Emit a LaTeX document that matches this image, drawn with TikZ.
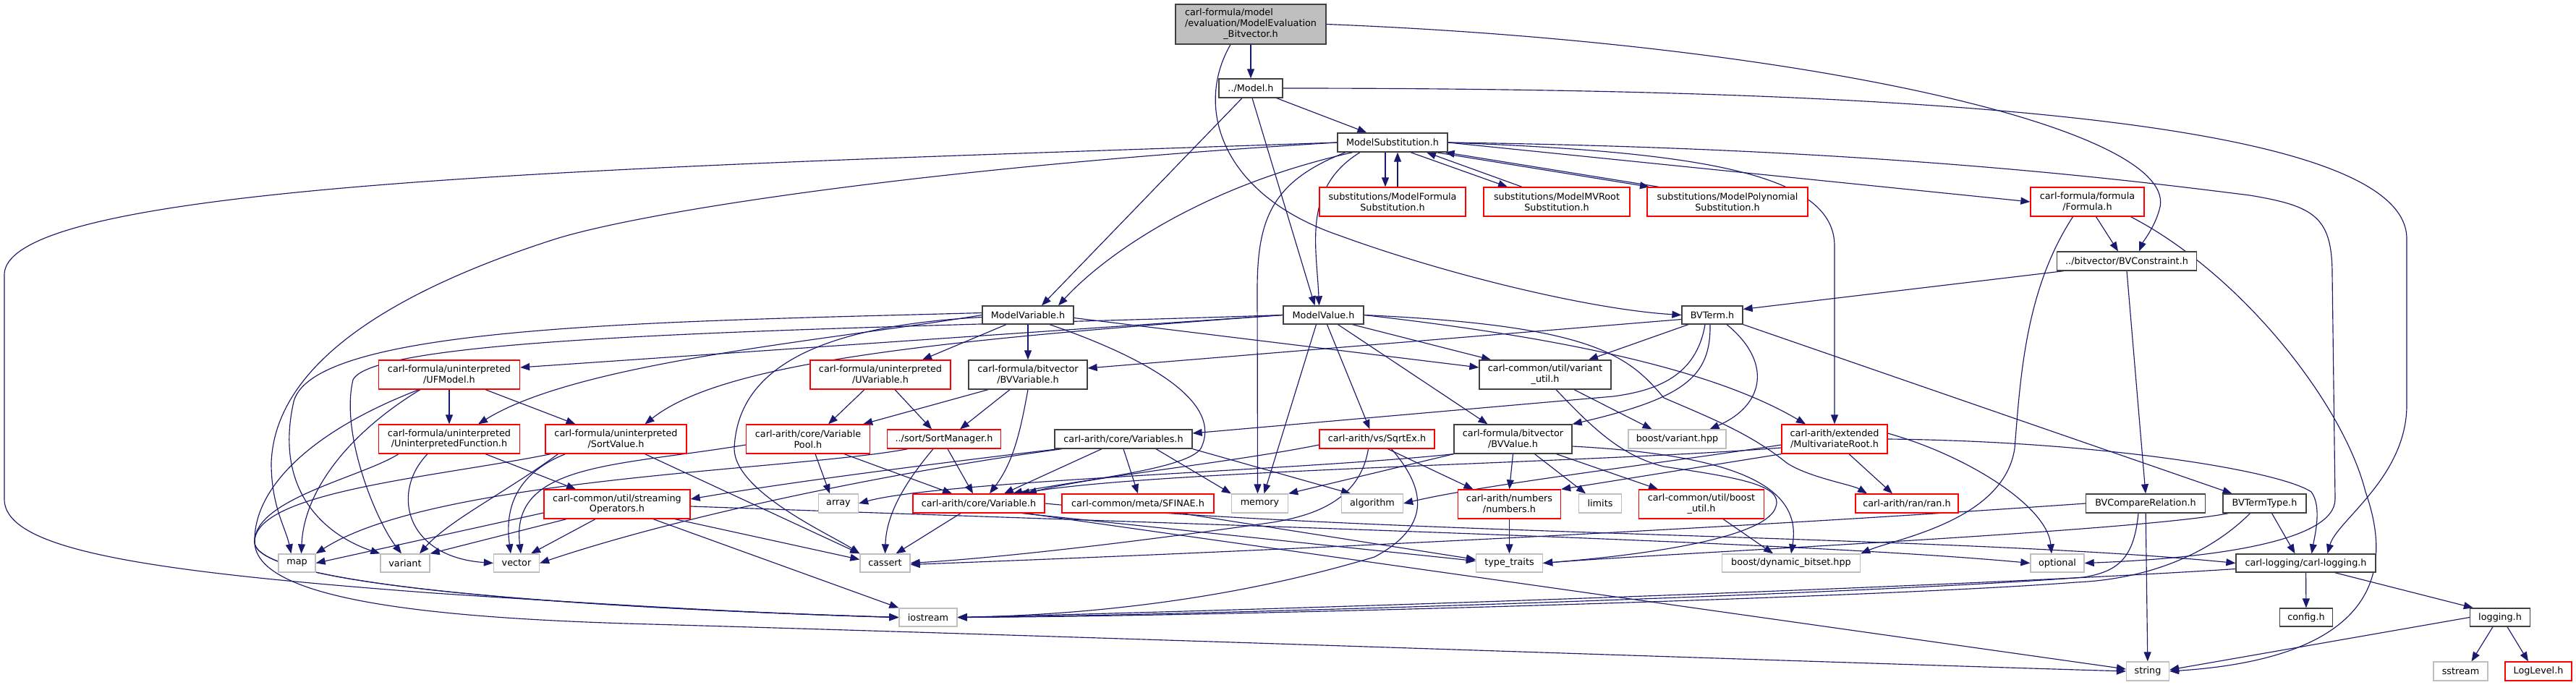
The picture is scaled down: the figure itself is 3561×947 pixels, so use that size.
\documentclass[tikz,border=0pt]{standalone}
\usepackage{fontspec}
\setmainfont{DejaVu Sans}
\usetikzlibrary{arrows.meta}
\pgfdeclarelayer{bglayer}
\pgfdeclarelayer{edgelayer}
\pgfsetlayers{bglayer,edgelayer,main}
\definecolor{edgecol}{HTML}{191970}
\definecolor{sysgray}{HTML}{BFBFBF}
\definecolor{docgray}{HTML}{404040}
\newcommand\lblf{\fontsize{12.8pt}{14.8pt}\selectfont}
\tikzset{
  nbox/.style={draw, line width=1.3pt, fill=white, inner sep=0pt, align=center, font=\lblf, text=black},
  docn/.style={nbox, draw=docgray},
  trunc/.style={nbox, draw=red},
  sysn/.style={nbox, draw=sysgray},
  rootn/.style={draw=docgray, line width=1.3pt, fill=sysgray, inner sep=0pt, font=\lblf, text=black},
  sz/.style 2 args={minimum width=#1pt, minimum height=#2pt},
  dep/.style={draw=edgecol, line width=1.15pt, -{Triangle[length=13pt,width=10pt]}},
}
\begin{document}
\begin{tikzpicture}[x=1pt,y=-1pt]
\useasboundingbox (0,0) rectangle (3561,947);
\begin{pgfonlayer}{bglayer}
\fill[white] (0,0) rectangle (3561,947);
\end{pgfonlayer}
% ---------------- nodes ----------------
\node[rootn, sz={208}{55}] (root) at (1729,33.5) {\begin{tabular}{@{}l@{}}carl-formula/model\\/evaluation/ModelEvaluation\\\multicolumn{1}{@{}c@{}}{\_Bitvector.h}\end{tabular}};
\node[docn, sz={88}{26}] (model) at (1729,122) {../Model.h};
\node[docn, sz={152}{26}] (ms) at (1925,197) {ModelSubstitution.h};
\node[trunc, sz={202}{40}] (mfs) at (1925,279) {substitutions/ModelFormula\\Substitution.h};
\node[trunc, sz={202}{40}] (mmvr) at (2152,279) {substitutions/ModelMVRoot\\Substitution.h};
\node[trunc, sz={222}{40}] (mps) at (2388,279) {substitutions/ModelPolynomial\\Substitution.h};
\node[trunc, sz={157}{40}] (formula) at (2885.5,279) {carl-formula/formula\\/Formula.h};
\node[docn, sz={193}{26}] (bvcons) at (2940,361) {../bitvector/BVConstraint.h};
\node[docn, sz={126}{25}] (mvar) at (1421,435.5) {ModelVariable.h};
\node[docn, sz={111}{25}] (mval) at (1829.5,435.5) {ModelValue.h};
\node[docn, sz={84}{25}] (bvterm) at (2367,435.5) {BVTerm.h};
\node[trunc, sz={195}{40}] (ufmodel) at (621,518) {carl-formula/uninterpreted\\/UFModel.h};
\node[trunc, sz={194}{40}] (uvar) at (1217,518) {carl-formula/uninterpreted\\/UVariable.h};
\node[docn, sz={164}{40}] (bvvar) at (1421,518) {carl-formula/bitvector\\/BVVariable.h};
\node[docn, sz={182}{40}] (vutil) at (2136,518) {carl-common/util/variant\\\_util.h};
\node[trunc, sz={195}{40}] (ufunc) at (621,607) {carl-formula/uninterpreted\\/UninterpretedFunction.h};
\node[trunc, sz={195}{40}] (sortval) at (851.5,607) {carl-formula/uninterpreted\\/SortValue.h};
\node[trunc, sz={171}{40}] (vpool) at (1117,607) {carl-arith/core/Variable\\Pool.h};
\node[trunc, sz={157}{26}] (sortmgr) at (1305,607) {../sort/SortManager.h};
\node[docn, sz={190}{26}] (variables) at (1553,607) {carl-arith/core/Variables.h};
\node[trunc, sz={159}{26}] (sqrtex) at (1903.5,607) {carl-arith/vs/SqrtEx.h};
\node[docn, sz={163}{40}] (bvvalue) at (2091.5,607) {carl-formula/bitvector\\/BVValue.h};
\node[sysn, sz={135}{26}] (bvariant) at (2318.5,607) {boost/variant.hpp};
\node[trunc, sz={146}{40}] (mvroot) at (2536,607) {carl-arith/extended\\/MultivariateRoot.h};
\node[trunc, sz={202}{40}] (streamop) at (853,697) {carl-common/util/streaming\\Operators.h};
\node[sysn, sz={55}{26}] (array) at (1159,696) {array};
\node[trunc, sz={182}{26}] (variable) at (1353,696) {carl-arith/core/Variable.h};
\node[trunc, sz={210}{26}] (sfinae) at (1573,696) {carl-common/meta/SFINAE.h};
\node[sysn, sz={78}{26}] (memory) at (1741.5,696) {memory};
\node[sysn, sz={85}{26}] (algorithm) at (1897,696) {algorithm};
\node[trunc, sz={142}{40}] (numbers) at (2086.5,697) {carl-arith/numbers\\/numbers.h};
\node[sysn, sz={59}{26}] (limits) at (2212,696) {limits};
\node[trunc, sz={173}{40}] (boostutil) at (2352,697) {carl-common/util/boost\\\_util.h};
\node[trunc, sz={142}{26}] (ran) at (2636,696) {carl-arith/ran/ran.h};
\node[docn, sz={165}{26}] (bvcmp) at (2966,696) {BVCompareRelation.h};
\node[docn, sz={115}{26}] (bvtt) at (3130.5,696) {BVTermType.h};
\node[sysn, sz={51}{25}] (map) at (410.5,778.5) {map};
\node[sysn, sz={68}{25}] (variant) at (560,778.5) {variant};
\node[sysn, sz={63}{25}] (vector) at (714,778.5) {vector};
\node[sysn, sz={69}{25}] (cassert) at (1223.5,778.5) {cassert};
\node[sysn, sz={92}{25}] (typetraits) at (2086.5,778.5) {type\_traits};
\node[sysn, sz={191}{25}] (dynbitset) at (2476,778.5) {boost/dynamic\_bitset.hpp};
\node[sysn, sz={74}{25}] (optional) at (2844,778.5) {optional};
\node[docn, sz={193}{25}] (carllog) at (3187.5,778.5) {carl-logging/carl-logging.h};
\node[sysn, sz={80}{25}] (iostream) at (1283,853.5) {iostream};
\node[docn, sz={73}{25}] (config) at (3188,853.5) {config.h};
\node[docn, sz={83}{25}] (logging) at (3456,853.5) {logging.h};
\node[sysn, sz={59}{26}] (string) at (2969,928) {string};
\node[sysn, sz={75}{26}] (sstream) at (3401.5,928) {sstream};
\node[trunc, sz={92}{26}] (loglevel) at (3509,928) {LogLevel.h};
% ---------------- edges ----------------
\begin{pgfonlayer}{edgelayer}
% root
\draw[dep] (root) -- (model);
\draw[dep] ([xshift=-28pt]root.south) .. controls (1650,150) and (1690,270) .. (1850,325) .. controls (2000,380) and (2200,428) .. (bvterm.west);
\draw[dep] (root.east) .. controls (2500,60) and (3020,180) .. (2985,290) .. controls (2978,315) and (2962,335) .. ([xshift=17pt]bvcons.north);
% Model.h
\draw[dep] (model) -- (ms);
\draw[dep] ([xshift=-12pt]model.south) -- ([xshift=19pt]mvar.north);
\draw[dep] ([xshift=2pt]model.south) -- ([xshift=-12pt]mval.north);
\draw[dep] (model.east) .. controls (2600,122) and (3327,160) .. (3327,330) -- (3327,560) .. controls (3327,660) and (3230,720) .. ([xshift=30pt]carllog.north);
% ModelSubstitution
\draw[dep] ([xshift=-10pt]ms.south) -- ([xshift=-10pt]mfs.north);
\draw[dep] ([xshift=7pt]mfs.north) -- ([xshift=7pt]ms.south);
\draw[dep] ([xshift=25pt]ms.south) -- ([xshift=-68pt]mmvr.north);
\draw[dep] ([xshift=-48pt]mmvr.north) -- ([xshift=47pt]ms.south);
\draw[dep] ([xshift=60pt]ms.south) -- ([xshift=-108pt]mps.north);
\draw[dep] ([xshift=-95pt]mps.north) -- ([xshift=-4pt]ms.south east);
\draw[dep] (ms.east) -- (formula.west);
\draw[dep] (ms.east) .. controls (2350,210) and (2536,240) .. (2536,340) -- (mvroot.north);
\draw[dep] (ms.east) .. controls (2600,205) and (2950,250) .. (3110,270) .. controls (3200,285) and (3224,300) .. (3224,380) -- (3228,690) .. controls (3228,750) and (3050,772) .. (optional.east);
\draw[dep] (ms.west) .. controls (900,230) and (6,250) .. (6,380) -- (6,690) .. controls (6,760) and (200,790) .. (600,820) .. controls (900,840) and (1100,850) .. (iostream.west);
\draw[dep] (ms.west) .. controls (1300,230) and (900,290) .. (769,330) .. controls (550,400) and (380,500) .. (375,640) .. controls (375,700) and (395,730) .. ([xshift=-8pt]map.north);
\draw[dep] ([xshift=-55pt]ms.south) .. controls (1650,260) and (1520,360) .. ([xshift=42pt]mvar.north);
\draw[dep] ([xshift=-45pt]ms.south) .. controls (1800,260) and (1820,340) .. ([xshift=-6pt]mval.north);
\draw[dep] ([xshift=-65pt]ms.south) .. controls (1760,250) and (1738,300) .. (1738,400) -- ([xshift=-3pt]memory.north);
% Formula.h
\draw[dep] ([xshift=12pt]formula.south) -- ([xshift=-12pt]bvcons.north);
\draw[dep] ([xshift=60pt]formula.south) .. controls (3100,380) and (3240,560) .. (3270,680) .. controls (3330,850) and (3200,915) .. (string.east);
\draw[dep] ([xshift=-20pt]formula.south) .. controls (2800,400) and (2793,520) .. (2785,620) .. controls (2770,720) and (2620,745) .. (dynbitset.north east);
% BVConstraint
\draw[dep] ([xshift=10pt]bvcons.south west) -- ([yshift=8pt]bvterm.east);
\draw[dep] (bvcons.south) -- (bvcmp.north);
% BVTerm
\draw[dep] ([xshift=-33pt]bvterm.south) -- ([xshift=60pt]vutil.north);
\draw[dep] ([yshift=-6pt]bvterm.west) -- ([yshift=9pt]bvvar.east);
\draw[dep] ([xshift=-10pt]bvterm.south) .. controls (2345,520) and (2290,540) .. (2230,548) -- ([yshift=8pt]variables.east);
\draw[dep] ([xshift=-3pt]bvterm.south) .. controls (2365,520) and (2330,550) .. (bvvalue.north east);
\draw[dep] ([xshift=20pt]bvterm.south) .. controls (2450,500) and (2440,560) .. ([xshift=45pt]bvariant.north);
\draw[dep] (bvterm.south east) -- ([xshift=-45pt]bvtt.north);
% ModelVariable
\draw[dep] ([xshift=-30pt]mvar.south) -- ([xshift=58pt]uvar.north);
\draw[dep] (mvar.south) -- (bvvar.north);
\draw[dep] ([yshift=-4pt]mvar.east) -- ([yshift=10pt]vutil.west);
\draw[dep] ([yshift=-3pt]mvar.west) .. controls (1150,450) and (1020,500) .. (1015,620) .. controls (1015,680) and (1150,740) .. (cassert.north west);
\draw[dep] ([xshift=30pt]mvar.south) .. controls (1600,500) and (1690,560) .. (1660,620) .. controls (1640,650) and (1480,665) .. ([xshift=47pt]variable.north);
\draw[dep] ([yshift=3pt]mvar.west) .. controls (900,445) and (420,450) .. (405,560) .. controls (380,680) and (450,740) .. (variant.north west);
\draw[dep] (mvar.west) .. controls (1150,470) and (800,500) .. ([xshift=40pt]ufunc.north);
% ModelValue
\draw[dep] (mval.west) -- ([yshift=10pt]ufmodel.east);
\draw[dep] (mval.west) .. controls (1300,470) and (1000,500) .. ([xshift=40pt]sortval.north);
\draw[dep] ([xshift=40pt]mval.south) -- ([xshift=-75pt]vutil.north);
\draw[dep] ([xshift=5pt]mval.south) -- ([xshift=-10pt]sqrtex.north);
\draw[dep] ([xshift=20pt]mval.south) -- ([xshift=-35pt]bvvalue.north);
\draw[dep] (mval.east) .. controls (2100,460) and (2350,500) .. ([xshift=-40pt]mvroot.north);
\draw[dep] (mval.east) .. controls (2200,450) and (2250,490) .. (2300,550) .. controls (2370,580) and (2420,600) .. (2470,640) .. controls (2500,660) and (2560,670) .. ([xshift=-55pt]ran.north);
\draw[dep] ([xshift=-10pt]mval.south) -- ([xshift=6pt]memory.north);
\draw[dep] (mval.west) .. controls (1200,455) and (520,460) .. (488,525) .. controls (470,600) and (520,720) .. ([xshift=-5pt]variant.north);
% UFModel
\draw[dep] (ufmodel) -- (ufunc);
\draw[dep] ([xshift=50pt]ufmodel.south) -- ([xshift=-56pt]sortval.north);
\draw[dep] ([xshift=-40pt]ufmodel.south) .. controls (480,600) and (420,680) .. ([xshift=6pt]map.north);
\draw[dep] ([xshift=-42pt]ufmodel.south) .. controls (420,600) and (350,680) .. (352,750) .. controls (355,810) and (800,840) .. (iostream.west);
% UVariable, BVVariable
\draw[dep] ([xshift=-22pt]uvar.south) -- ([xshift=28pt]vpool.north);
\draw[dep] ([xshift=20pt]uvar.south) -- ([xshift=-17pt]sortmgr.north);
\draw[dep] ([xshift=-55pt]bvvar.south) -- ([xshift=-10pt]vpool.north east);
\draw[dep] ([xshift=-25pt]bvvar.south) -- ([xshift=22pt]sortmgr.north);
\draw[dep] (bvvar.south) .. controls (1410,600) and (1400,640) .. ([xshift=15pt]variable.north);
% variant_util
\draw[dep] ([xshift=40pt]vutil.south) -- ([xshift=-35pt]bvariant.north);
\draw[dep] ([xshift=15pt]vutil.south) .. controls (2200,590) and (2240,630) .. (2300,645) .. controls (2400,660) and (2465,670) .. (2455,700) .. controls (2445,740) and (2300,765) .. (typetraits.east);
% UninterpretedFunction
\draw[dep] ([xshift=-30pt]ufunc.south) .. controls (540,680) and (560,770) .. (vector.west);
\draw[dep] ([xshift=50pt]ufunc.south) -- ([xshift=-57pt]streamop.north);
\draw[dep] ([xshift=-70pt]ufunc.south) .. controls (500,660) and (350,690) .. (352,750) .. controls (355,830) and (600,855) .. (900,863) .. controls (1500,880) and (2500,915) .. (string.west);
% SortValue
\draw[dep] ([xshift=-70pt]sortval.south) .. controls (700,660) and (700,720) .. ([xshift=-8pt]vector.north);
\draw[dep] ([xshift=-80pt]sortval.south) .. controls (700,680) and (620,720) .. ([xshift=20pt]variant.north);
\draw[dep] ([xshift=40pt]sortval.south) -- (cassert.north west);
\draw[dep] ([xshift=-90pt]sortval.south) .. controls (600,660) and (350,680) .. (352,750) .. controls (355,810) and (800,840) .. (iostream.west);
% VariablePool
\draw[dep] ([xshift=50pt]vpool.south) -- ([xshift=-37pt]variable.north);
\draw[dep] ([xshift=10pt]vpool.south) -- ([xshift=-12pt]array.north);
\draw[dep] ([yshift=-8pt]vpool.west) .. controls (850,645) and (705,640) .. ([xshift=6pt]vector.north);
% SortManager
\draw[dep] ([xshift=5pt]sortmgr.south) -- ([xshift=-8pt]variable.north);
\draw[dep] ([xshift=-15pt]sortmgr.south) .. controls (1240,680) and (1225,720) .. (cassert.north);
\draw[dep] ([xshift=-50pt]sortmgr.south) .. controls (1100,650) and (600,660) .. (map.north east);
% Variables.h
\draw[dep] ([xshift=-30pt]variables.south) -- ([xshift=35pt]variable.north);
\draw[dep] (variables.south) -- (sfinae.north);
\draw[dep] ([xshift=45pt]variables.south) -- (memory.north west);
\draw[dep] (variables.south east) -- ([xshift=-30pt]algorithm.north);
\draw[dep] ([xshift=-85pt]variables.south) .. controls (1250,650) and (950,710) .. (vector.east);
\draw[dep] ([xshift=-90pt]variables.south) .. controls (1300,640) and (1100,665) .. ([yshift=7pt]streamop.east);
% SqrtEx
\draw[dep] ([yshift=-8pt]sqrtex.west) .. controls (1700,640) and (1500,660) .. ([xshift=67pt]variable.north);
\draw[dep] ([xshift=15pt]sqrtex.south) -- ([xshift=-50pt]numbers.north);
\draw[dep] ([xshift=-12pt]sqrtex.south) .. controls (1880,690) and (1820,712) .. (1760,722) .. controls (1600,745) and (1400,770) .. (cassert.east);
\draw[dep] ([xshift=20pt]sqrtex.south) .. controls (1975,680) and (1975,730) .. (1900,770) .. controls (1700,830) and (1500,850) .. (iostream.east);
% BVValue
\draw[dep] (bvvalue.south) -- (numbers.north);
\draw[dep] ([xshift=30pt]bvvalue.south) -- ([xshift=-20pt]limits.north);
\draw[dep] ([xshift=60pt]bvvalue.south) -- ([xshift=-60pt]boostutil.north);
\draw[dep] (bvvalue.south west) -- (memory.north east);
\draw[dep] ([yshift=-10pt]bvvalue.east) .. controls (2420,630) and (2490,680) .. (dynbitset.north);
\draw[dep] (bvvalue.south west) .. controls (1800,650) and (1300,665) .. (array.east);
% MultivariateRoot
\draw[dep] ([xshift=20pt]mvroot.south) -- ([xshift=-20pt]ran.north);
\draw[dep] (mvroot.south west) -- (numbers.north east);
\draw[dep] ([yshift=-8pt]mvroot.west) .. controls (2300,640) and (2050,670) .. (algorithm.east);
\draw[dep] ([yshift=8pt]mvroot.east) .. controls (2720,630) and (2830,700) .. ([xshift=-8pt]optional.north);
\draw[dep] (mvroot.east) .. controls (2900,610) and (3150,650) .. (3195,680) .. controls (3210,700) and (3200,740) .. ([xshift=8pt]carllog.north);
\draw[dep] ([yshift=-12pt]mvroot.west) .. controls (2200,640) and (1600,650) .. ([xshift=57pt]variable.north);
% streamingOperators
\draw[dep] ([yshift=-12pt]streamop.west) -- (map.east);
\draw[dep] ([xshift=-70pt]streamop.south) -- (variant.north east);
\draw[dep] ([xshift=-30pt]streamop.south) -- ([xshift=20pt]vector.north);
\draw[dep] ([xshift=80pt]streamop.south) -- ([yshift=5pt]cassert.west);
\draw[dep] ([xshift=50pt]streamop.south) -- (iostream.north west);
\draw[dep] ([yshift=-3pt]streamop.east) .. controls (1800,730) and (2500,750) .. (optional.west);
% Variable.h
\draw[dep] ([xshift=-25pt]variable.south) -- ([xshift=15pt]cassert.north);
\draw[dep] ([xshift=60pt]variable.south) -- ([yshift=3pt]typetraits.west);
\draw[dep] ([xshift=65pt]variable.south) -- ([yshift=3pt]string.west);
\draw[dep] (variable.east) .. controls (1900,740) and (2700,740) .. (carllog.west);
% SFINAE, numbers, boost_util
\draw[dep] ([xshift=60pt]sfinae.south) -- ([yshift=5pt]typetraits.west);
\draw[dep] (numbers.south) -- (typetraits.north);
\draw[dep] ([xshift=30pt]boostutil.south) -- ([xshift=-25pt]dynbitset.north);
% BVCompareRelation
\draw[dep] (bvcmp) -- (string);
\draw[dep] (bvcmp.west) .. controls (2400,730) and (1800,760) .. ([yshift=-2pt]cassert.east);
\draw[dep] ([xshift=-10pt]bvcmp.south) .. controls (2950,770) and (2930,790) .. (2880,798) .. controls (2600,820) and (1700,850) .. (iostream.east);
% BVTermType
\draw[dep] ([xshift=10pt]bvtt.south) -- ([xshift=-15pt]carllog.north);
\draw[dep] ([xshift=-20pt]bvtt.south) .. controls (3060,760) and (2980,800) .. (2870,805) .. controls (2600,826) and (1700,852) .. (iostream.east);
\draw[dep] ([xshift=-50pt]bvtt.south) .. controls (2950,735) and (2300,765) .. (typetraits.east);
% carl-logging
\draw[dep] (carllog) -- (config);
\draw[dep] ([xshift=40pt]carllog.south) -- ([xshift=5pt]logging.north west);
\draw[dep] ([yshift=-8pt]carllog.west) .. controls (2700,812) and (1800,842) .. (iostream.east);
% logging
\draw[dep] (logging.west) -- ([yshift=2pt]string.east);
\draw[dep] ([xshift=-10pt]logging.south) -- ([xshift=15pt]sstream.north);
\draw[dep] ([xshift=10pt]logging.south) -- ([xshift=-14pt]loglevel.north);
\end{pgfonlayer}
\end{tikzpicture}
\end{document}
